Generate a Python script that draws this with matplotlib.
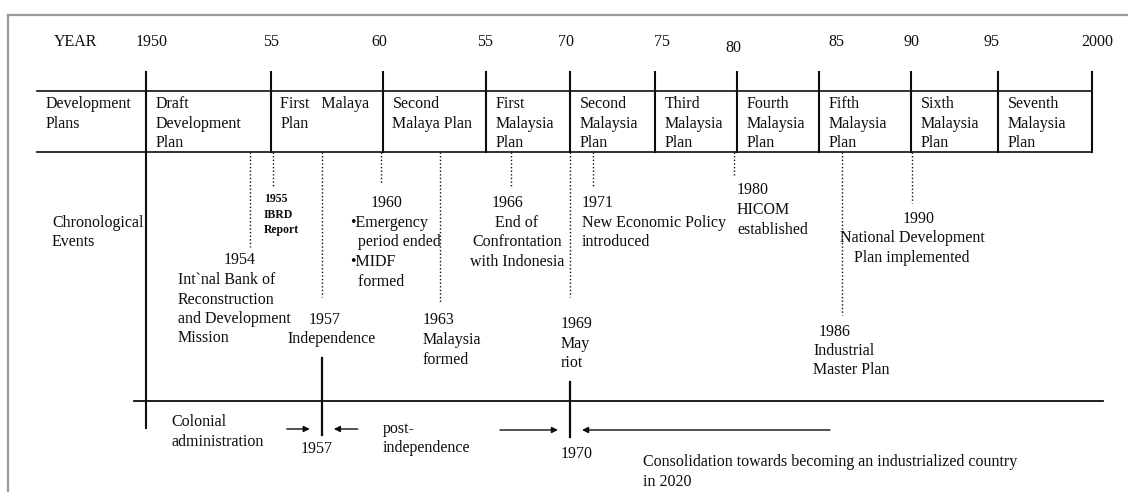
import numpy as np
import matplotlib
matplotlib.use('Agg')
import matplotlib.pyplot as plt

plt.rcParams['font.family'] = ['Liberation Serif', 'DejaVu Serif']

# years on the top scale and how they are printed ("55" for 1965 is as in the source)
tick_years = [1950, 1955, 1960, 1965, 1970, 1975, 1980, 1985, 1990, 1995, 2000]
tick_labels = ['1950', '55', '60', '55', '70', '75', '80', '85', '90', '95', '2000']

plan_names = ['Draft\nDevelopment\nPlan', 'First   Malaya\nPlan', 'Second\nMalaya Plan',
              'First\nMalaysia\nPlan', 'Second\nMalaysia\nPlan', 'Third\nMalaysia\nPlan',
              'Fourth\nMalaysia\nPlan', 'Fifth\nMalaysia\nPlan', 'Sixth\nMalaysia\nPlan',
              'Seventh\nMalaysia\nPlan']

event_years = [1954, 1955, 1957, 1960, 1963, 1966, 1969, 1971, 1980, 1986, 1990]
event_notes = ['Int`nal Bank of\nReconstruction\nand Development\nMission',
               'IBRD\nReport',
               'Independence',
               '\u2022Emergency\n  period ended\n\u2022MIDF\n  formed',
               'Malaysia\nformed',
               'End of\nConfrontation\nwith Indonesia',
               'May\nriot',
               'New Economic Policy\nintroduced',
               'HICOM\nestablished',
               'Industrial\nMaster Plan',
               'National Development\nPlan implemented']

milestone_years = [1957, 1970]
period_labels = ['Colonial\nadministration', 'post-\nindependence',
                 'Consolidation towards becoming an industrialized country\nin 2020']

# ---- layout (pixels) ----
W, H = 1128, 492
tick_px = [146, 271, 383, 486, 570, 655, 737, 819, 911, 998, 1092]
label_dx = [6, 0, -4, -1, -4, 7, -4, 17, 0, -6, 5]
label_y = [40, 40, 40, 40, 40, 40, 46, 40, 40, 40, 40]


def year_x(yr):
    return np.interp(yr, tick_years, tick_px)


# per event: line shift, line end, (dx, y, ha) of year, (dx, y, ha) of note, font size
event_layout = [
    (4, 247, (-10, 258, 'center'), (-72, 278, 'left'), 11.5),
    (2, 187, (-9, 198, 'left'), (-9, 213.5, 'left'), 8.5),
    (6, 297, (3, 318, 'center'), (10, 337, 'center'), 11.5),
    (-2, 183, (6, 201, 'center'), (-31, 221, 'left'), 11.5),
    (-5, 302, (-17, 318, 'left'), (-17, 338, 'left'), 11.5),
    (8, 188, (-3, 201, 'center'), (6, 221, 'center'), 11.5),
    (17, 297, (-10, 322, 'left'), (-10, 341.5, 'left'), 11.5),
    (6, 188, (-11, 201, 'left'), (-11, 221, 'left'), 11.5),
    (-3, 175, (3, 188, 'left'), (3, 208, 'left'), 11.5),
    (5, 315, (-24, 330, 'left'), (-29, 349, 'left'), 11.5),
    (1, 203, (7, 217, 'center'), (0, 236, 'center'), 11.5),
]
milestone_shift = [6, 0]

ink = '#0d0d0d'
fs = 11.5
lh = 19.5

fig = plt.figure(figsize=(W / 100, H / 100), dpi=100)
ax = fig.add_axes([0, 0, 1, 1])
ax.set_xlim(0, W)
ax.set_ylim(H, 0)
ax.axis('off')


def lines_text(x, y, s, ha='left', size=fs, step=lh, weight='normal'):
    for i, line in enumerate(s.split('\n')):
        ax.text(x, y + i * step, line, ha=ha, va='center_baseline',
                fontsize=size, color=ink, fontweight=weight)


# frame of the scanned page
ax.plot([8, W], [15, 15], color='#9a9a9a', lw=1.6)
ax.plot([8, 8], [15, H], color='#9a9a9a', lw=1.6)

# year scale
lines_text(54, 40, 'YEAR')
for yr, lab, dx, ly in zip(tick_years, tick_labels, label_dx, label_y):
    ax.text(year_x(yr) + dx, ly, lab, ha='center', va='center_baseline',
            fontsize=fs, color=ink)

# development plans row
box_top, box_bot = 91, 152
ax.plot([37, tick_px[-1]], [box_top, box_top], color=ink, lw=1.2)
ax.plot([37, tick_px[-1]], [box_bot, box_bot], color=ink, lw=1.2)
for i, yr in enumerate(tick_years):
    bottom = 428 if i == 0 else box_bot
    ax.plot([year_x(yr)] * 2, [72, bottom], color=ink, lw=1.5)
lines_text(46, 102, 'Development\nPlans')
for yr, name in zip(tick_years[:-1], plan_names):
    lines_text(year_x(yr) + 9.5, 102, name)

# chronological events
lines_text(52, 221, 'Chronological\nEvents')
for yr, note, lay in zip(event_years, event_notes, event_layout):
    shift, end, (ydx, yy, yha), (ndx, ny, nha), size = lay
    x = year_x(yr) + shift
    ax.plot([x, x], [box_bot, end], color=ink, lw=1.0, linestyle=(0, (1, 1.6)))
    small = size < 10
    step = 15.5 if small else lh
    wt = 'bold' if small else 'normal'
    ax.text(x + ydx, yy, str(yr), ha=yha, va='center_baseline', fontsize=size,
            color=ink, fontweight=wt)
    lines_text(x + ndx, ny, note, ha=nha, size=size, step=step, weight=wt)

# period bar
ax.plot([134, 1103], [401, 401], color=ink, lw=1.3)
m1 = year_x(milestone_years[0]) + milestone_shift[0]
m2 = year_x(milestone_years[1]) + milestone_shift[1]
ax.plot([m1, m1], [358, 435], color=ink, lw=1.6)
ax.plot([m2, m2], [382, 437], color=ink, lw=1.6)
ax.text(m1 - 5, 447, str(milestone_years[0]), ha='center', va='center_baseline',
        fontsize=fs, color=ink)
ax.text(m2 + 7, 452, str(milestone_years[1]), ha='center', va='center_baseline',
        fontsize=fs, color=ink)

arrow = dict(arrowstyle='-|>', color=ink, lw=1.0, mutation_scale=9, shrinkA=0, shrinkB=0)
for x0, x1, y in [(m1 - 35, m1 - 12, 429), (m1 + 36, m1 + 12, 429),
                  (m2 - 70, m2 - 12, 430), (m2 + 260, m2 + 12, 430)]:
    ax.annotate('', xy=(x1, y), xytext=(x0, y), arrowprops=arrow)

lines_text(171, 420, period_labels[0])
lines_text(383, 427, period_labels[1])
lines_text(643, 460, period_labels[2], step=20)

fig.savefig('out.png', dpi=100)
